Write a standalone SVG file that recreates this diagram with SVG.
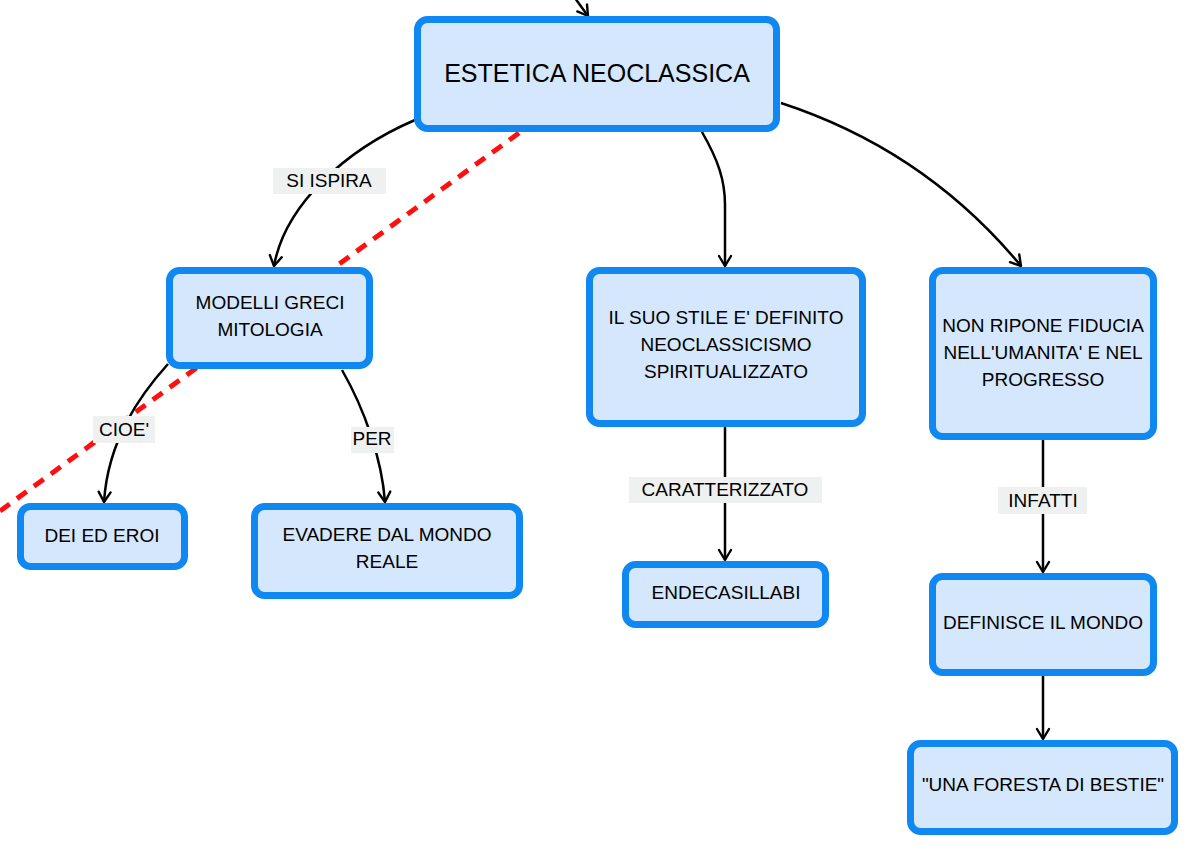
<svg xmlns="http://www.w3.org/2000/svg" width="1195" height="852" viewBox="0 0 1195 852">
  <defs>
    <marker id="arr" markerUnits="userSpaceOnUse" markerWidth="24" markerHeight="24" viewBox="-12 -12 24 24" refX="0" refY="0" orient="auto">
      <path d="M-10,-6 L0,0 L-10,6" fill="none" stroke="#000" stroke-width="2.4" stroke-linecap="round" stroke-linejoin="round"/>
    </marker>
  </defs>
  <style>
    .node rect { fill: #d4e7fc; stroke: #0f88f2; stroke-width: 7; }
    .t { font-family: "Liberation Sans", Arial, sans-serif; font-size: 19px; fill: #000; text-anchor: middle; }
    .title { font-size: 25px; }
    .edge { fill: none; stroke: #000; stroke-width: 2.5; marker-end: url(#arr); }
    .lblbg { fill: #eff1f1; }
    .dash { fill: none; stroke: #ff1010; stroke-width: 5; stroke-dasharray: 12 9; }
  </style>
  <rect width="1195" height="852" fill="#ffffff"/>

  <line class="dash" x1="0" y1="511" x2="519" y2="133"/>

  <g id="connectors">
    <path class="edge" d="M572,-6 L588,16"/>
    <path class="edge" d="M415,120 C345,150 285,205 274,266"/>
    <path class="edge" d="M702,132 C718,160 725,180 725,205 L725,266"/>
    <path class="edge" d="M781,103 Q925,150 1021,266"/>
    <path class="edge" d="M168,364 C140,395 108,440 104,502"/>
    <path class="edge" d="M342,370 C365,410 382,460 385,502"/>
    <path class="edge" d="M725,427 L725,560"/>
    <path class="edge" d="M1043,440 L1043,572"/>
    <path class="edge" d="M1043,676 L1043,739"/>
    <g id="lbl-si-ispira"><rect class="lblbg" x="273" y="168" width="113" height="26"/><text class="t" x="329" y="187">SI ISPIRA</text></g>
    <g id="lbl-cioe"><rect class="lblbg" x="93" y="416" width="62" height="27"/><text class="t" x="124" y="436">CIOE'</text></g>
    <g id="lbl-per"><rect class="lblbg" x="351" y="427" width="43" height="26"/><text class="t" x="372" y="445">PER</text></g>
    <g id="lbl-caratterizzato"><rect class="lblbg" x="629" y="477" width="193" height="26"/><text class="t" x="725" y="496">CARATTERIZZATO</text></g>
    <g id="lbl-infatti"><rect class="lblbg" x="998" y="487" width="89" height="27"/><text class="t" x="1043" y="507">INFATTI</text></g>
  </g>

  <g id="n-estetica" class="node">
    <rect x="417.5" y="19.5" width="359" height="109" rx="10"/>
    <text class="t title" x="597" y="82">ESTETICA NEOCLASSICA</text>
  </g>
  <g id="n-modelli" class="node">
    <rect x="169.5" y="270.5" width="200" height="95" rx="10"/>
    <text class="t" x="270" y="309">MODELLI GRECI</text>
    <text class="t" x="270" y="336">MITOLOGIA</text>
  </g>
  <g id="n-dei" class="node">
    <rect x="20.5" y="506.5" width="164" height="60" rx="10"/>
    <text class="t" x="102" y="542">DEI ED EROI</text>
  </g>
  <g id="n-evadere" class="node">
    <rect x="254.5" y="506.5" width="265" height="89" rx="10"/>
    <text class="t" x="387" y="541">EVADERE DAL MONDO</text>
    <text class="t" x="387" y="568">REALE</text>
  </g>
  <g id="n-stile" class="node">
    <rect x="589.5" y="270.5" width="273" height="153" rx="10"/>
    <text class="t" x="726" y="324">IL SUO STILE E' DEFINITO</text>
    <text class="t" x="726" y="351">NEOCLASSICISMO</text>
    <text class="t" x="726" y="378">SPIRITUALIZZATO</text>
  </g>
  <g id="n-fiducia" class="node">
    <rect x="932.5" y="270.5" width="221" height="166" rx="10"/>
    <text class="t" x="1043" y="332">NON RIPONE FIDUCIA</text>
    <text class="t" x="1043" y="359">NELL'UMANITA' E NEL</text>
    <text class="t" x="1043" y="386">PROGRESSO</text>
  </g>
  <g id="n-endecasillabi" class="node">
    <rect x="625.5" y="564.5" width="200" height="60" rx="10"/>
    <text class="t" x="726" y="599">ENDECASILLABI</text>
  </g>
  <g id="n-definisce" class="node">
    <rect x="932.5" y="576.5" width="221" height="96" rx="10"/>
    <text class="t" x="1043" y="629">DEFINISCE IL MONDO</text>
  </g>
  <g id="n-foresta" class="node">
    <rect x="910.5" y="743.5" width="264" height="88" rx="10"/>
    <text class="t" x="1043" y="791">"UNA FORESTA DI BESTIE"</text>
  </g>
</svg>
